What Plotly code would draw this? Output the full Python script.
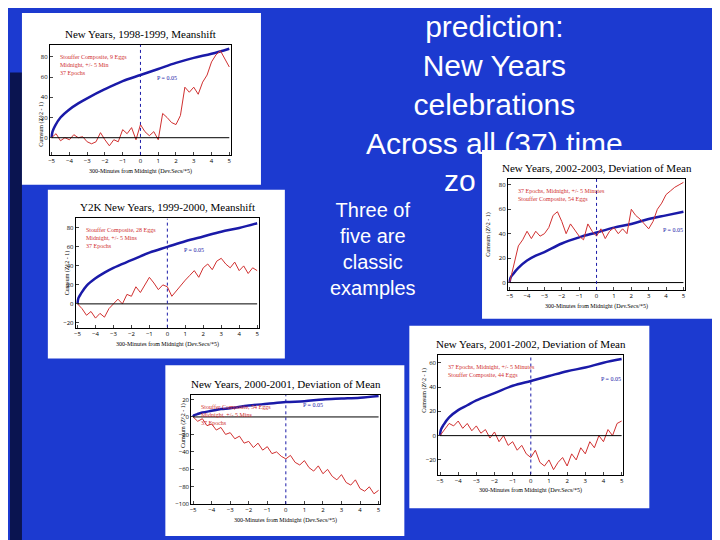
import plotly.graph_objects as go

W, H = 720, 540

# shared x positions (hours from midnight)
x_red = [-5, -4.75, -4.5, -4.25, -4, -3.75, -3.5, -3.25, -3, -2.75, -2.5, -2.25, -2, -1.75, -1.5, -1.25,
         -1, -0.75, -0.5, -0.25, 0, 0.25, 0.5, 0.75, 1, 1.25, 1.5, 1.75, 2, 2.25, 2.5, 2.75, 3, 3.25,
         3.5, 3.75, 4, 4.25, 4.5, 4.75, 5]
x_blue = [-5, -4.95, -4.8, -4.5, -4, -3.5, -3, -2, -1, 0, 1, 2, 3, 4, 5]
ticks_x = [-5, -4, -3, -2, -1, 0, 1, 2, 3, 4, 5]

red_1998 = [0, 4, -3, 0, -2, 3, 0, 1, -4, -6, -4, 5, -2, -8, -2, -4, 8, 4, 10, -2, 13, 6, 2, 6, -2,
            24, 20, 15, 13, 22, 50, 45, 50, 43, 55, 62, 75, 82, 86, 78, 70]
blue_1998 = [0, 6, 12, 20, 28, 34, 39, 48, 56, 62, 68, 74, 79, 83, 88]

red_1999 = [0, -5, -12, -8, -15, -10, -14, -5, 0, 5, 0, 10, 8, 18, 12, 20, 28, 22, 15, 20, 18, 8, 14,
            20, 25, 30, 35, 28, 38, 42, 36, 45, 48, 42, 38, 44, 35, 40, 32, 38, 35]
blue_1999 = [0, 6, 11, 19, 27, 33, 38, 46, 54, 60, 66, 71, 76, 80, 85]

red_2002 = [0, 15, 30, 35, 42, 36, 42, 38, 40, 45, 55, 58, 50, 40, 48, 43, 38, 35, 48, 42, 38, 44, 36,
            42, 45, 40, 44, 40, 60, 55, 52, 48, 44, 50, 60, 65, 72, 75, 78, 80, 82]
blue_2002 = [0, 4, 7, 12, 18, 22, 25, 32, 37, 41, 45, 48, 52, 55, 58]

red_2001 = [0, 5, 10, 8, 12, 6, 10, 4, 8, 2, 5, -2, 3, -5, 0, -8, -5, -12, -8, -15, -18, -12, -22, -25,
            -20, -28, -22, -18, -25, -15, -20, -10, -15, -5, -10, 0, -5, 5, 0, 10, 12]
blue_2001 = [0, 5, 9, 15, 21, 25, 29, 35, 41, 45, 49, 53, 56, 60, 63]

red_2000 = [0, -5, -2, -10, -8, -15, -12, -20, -18, -25, -22, -30, -28, -35, -30, -38, -34, -42, -40,
            -45, -48, -44, -52, -55, -50, -58, -62, -56, -65, -60, -68, -72, -66, -75, -78, -72, -82,
            -85, -80, -88, -84]
blue_2000 = [0, 2, 3, 5, 7, 9, 10, 13, 15, 17, 18, 20, 21, 22, 24]

charts = [
    # title, red, blue, notes, panel px box, plot px box, y range
    ("New Years, 1998-1999, Meanshift", red_1998, blue_1998,
     ["Stouffer Composite, 9 Eggs", "Midnight, +/- 5 Min", "37 Epochs"],
     (12, 5, 252, 178), (40, 37, 222, 148), (-17, 92)),
    ("Y2K New Years, 1999-2000, Meanshift", red_1999, blue_1999,
     ["Stouffer Composite, 28 Eggs", "Midnight, +/- 5 Mins", "37 Epochs"],
     (38, 183, 276, 353), (66, 212, 250, 322), (-25, 90)),
    ("New Years, 2000-2001, Deviation of Mean", red_2000, blue_2000,
     ["Stouffer Composite, 54 Eggs", "Midnight, +/- 5 Mins", "37 Epochs"],
     (156, 360, 396, 532), (182, 390, 372, 500), (-100, 25)),
    ("New Years, 2001-2002, Deviation of Mean", red_2001, blue_2001,
     ["37 Epochs, Midnight, +/- 5 Minutes", "Stouffer Composite, 44 Eggs"],
     (401, 320, 642, 504), (430, 350, 616, 470), (-32, 66)),
    ("New Years, 2002-2003, Deviation of Mean", red_2002, blue_2002,
     ["37 Epochs, Midnight, +/- 5 Minutes", "Stouffer Composite, 54 Eggs"],
     (474, 143, 707, 313), (500, 172, 678, 284), (-6, 85)),
]

fig = go.Figure()
shapes = [dict(type="rect", xref="paper", yref="paper", x0=0, x1=12 / W, y0=0, y1=1 - 65 / H,
               fillcolor="#0a1450", line_width=0, layer="below")]
annotations = [
    dict(text="prediction:<br>New Years<br>celebrations<br>Across all (37) time", x=487 / W, y=1.0,
         xref="paper", yref="paper", xanchor="center", yanchor="top", showarrow=False,
         font=dict(family="Liberation Sans", size=30, color="white")),
    # the rest of "zones" is hidden behind the 2002-2003 chart
    dict(text="zo", x=470 / W, y=1 - 155 / H, xref="paper", yref="paper", xanchor="right", yanchor="top",
         showarrow=False, font=dict(family="Liberation Sans", size=30, color="white")),
    dict(text="Three of<br>five are<br>classic<br>examples", x=365 / W, y=1 - 190 / H,
         xref="paper", yref="paper", xanchor="center", yanchor="top", showarrow=False,
         font=dict(family="Liberation Sans", size=20, color="white")),
]

for i, (title, red, blue, notes, panel, box, yr) in enumerate(charts):
    n = i + 1
    xa, ya = "x" if n == 1 else f"x{n}", "y" if n == 1 else f"y{n}"
    fig.add_trace(go.Scatter(x=x_blue, y=blue, mode="lines", line=dict(color="#1a1aa8", width=2.5, shape="spline"),
                             xaxis=xa, yaxis=ya, showlegend=False))
    fig.add_trace(go.Scatter(x=x_red, y=red, mode="lines", line=dict(color="#d03030", width=1),
                             xaxis=xa, yaxis=ya, showlegend=False))
    px0, py0, px1, py1 = panel
    bx0, by0, bx1, by1 = box
    shapes.append(dict(type="rect", xref="paper", yref="paper", x0=px0 / W, x1=px1 / W,
                       y0=1 - py1 / H, y1=1 - py0 / H, fillcolor="white", line_width=0, layer="below"))
    shapes.append(dict(type="line", xref=xa, yref=ya, x0=-5, x1=5, y0=0, y1=0, line=dict(color="black", width=1)))
    shapes.append(dict(type="line", xref=xa, yref=ya, x0=0, x1=0, y0=yr[0], y1=yr[1],
                       line=dict(color="#1a1aa8", width=1, dash="dot")))
    fig.update_layout(**{
        ("xaxis" if n == 1 else f"xaxis{n}"): dict(domain=[bx0 / W, bx1 / W], range=[-5.1, 5.1], anchor=ya,
                                                   tickvals=ticks_x, tickfont=dict(size=6, color="black"),
                                                   showgrid=False, zeroline=False, mirror=True, showline=True,
                                                   linecolor="black", linewidth=1, ticks="inside", ticklen=3),
        ("yaxis" if n == 1 else f"yaxis{n}"): dict(domain=[1 - by1 / H, 1 - by0 / H], range=list(yr), anchor=xa,
                                                   tickfont=dict(size=6, color="black"), nticks=8,
                                                   showgrid=False, zeroline=False, mirror=True, showline=True,
                                                   linecolor="black", linewidth=1, ticks="inside", ticklen=3),
    })
    cx = (bx0 + bx1) / 2 / W
    annotations.append(dict(text=title, x=cx, y=1 - (by0 - 3) / H, xref="paper", yref="paper",
                            xanchor="center", yanchor="bottom", showarrow=False,
                            font=dict(family="Liberation Serif", size=11, color="black")))
    annotations.append(dict(text="300-Minutes from Midnight (Dev.Secs/*5)", x=cx, y=1 - (by1 + 11) / H,
                            xref="paper", yref="paper", xanchor="center", yanchor="top", showarrow=False,
                            font=dict(family="Liberation Serif", size=6, color="black")))
    annotations.append(dict(text="Cumsum (Z^2 - 1)", x=(bx0 - 14) / W, y=1 - (by0 + by1) / 2 / H,
                            xref="paper", yref="paper", textangle=-90, showarrow=False,
                            font=dict(family="Liberation Serif", size=6, color="black")))
    annotations.append(dict(text="<br>".join(notes), x=(bx0 + 8) / W, y=1 - (by0 + 7) / H, xref="paper",
                            yref="paper", xanchor="left", yanchor="top", align="left", showarrow=False,
                            font=dict(family="Liberation Serif", size=6, color="#d03030")))
    annotations.append(dict(text="P = 0.05", x=0.8 if n < 4 else 4.4, y=blue[9] - (yr[1] - yr[0]) * 0.03
                            if n < 4 else blue[-3] - (yr[1] - yr[0]) * 0.1,
                            xref=xa, yref=ya, xanchor="left" if n < 4 else "center", showarrow=False,
                            font=dict(family="Liberation Serif", size=6, color="#1a1aa8")))

fig.update_layout(width=W, height=H, margin=dict(l=0, r=0, t=0, b=0),
                  paper_bgcolor="#1c3ad0", plot_bgcolor="white",
                  shapes=shapes, annotations=annotations)
fig.write_html("out.html")
